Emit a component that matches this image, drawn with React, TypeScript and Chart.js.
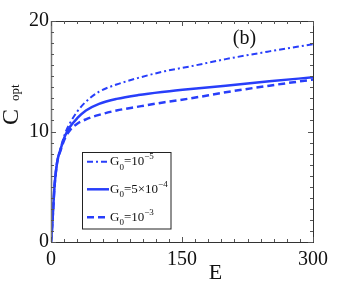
import React, { useEffect, useRef } from 'react';
import { Chart, registerables } from 'chart.js';

Chart.register(...registerables);

// ---- data ----
const energies = [0, 1, 2, 4, 7, 11, 16, 22, 30, 40, 55, 75, 100, 130, 160, 200, 250, 300];
const copt_G1e5 = [0, 1.0, 2.3, 5.0, 7.2, 8.5, 9.8, 10.8, 11.8, 12.7, 13.6, 14.25, 14.85, 15.45, 15.9, 16.55, 17.25, 17.9];
const copt_G5e4 = [0, 1.0, 2.3, 5.0, 7.2, 8.4, 9.6, 10.45, 11.2, 11.9, 12.5, 12.95, 13.3, 13.6, 13.85, 14.15, 14.55, 14.9];
const copt_G1e3 = [0, 1.0, 2.3, 5.0, 7.2, 8.3, 9.4, 10.15, 10.7, 11.1, 11.5, 11.9, 12.25, 12.65, 13.0, 13.55, 14.15, 14.7];
// legend label runs: [main, subscript, main, superscript]
const legendRuns = [
  ['G', '0', '=10', '\u22125'],
  ['G', '0', '=5\u00d710', '\u22124'],
  ['G', '0', '=10', '\u22123'],
];
const xMajor = [0, 150, 300];
const yMajor = [0, 10, 20];
const xTitle = 'E';
const yTitleMain = 'C';
const yTitleSub = 'opt';
const panelLabel = '(b)';

const BLUE = 'rgb(40,62,250)';
const SERIF = '"Liberation Serif", "DejaVu Serif", serif';

const overlayPlugin = {
  id: 'overlay',
  afterDatasetsDraw(chart: any) {
    const { ctx, chartArea: a, scales } = chart;
    const xs = scales.x, ys = scales.y;
    ctx.save();
    // frame
    ctx.strokeStyle = '#333';
    ctx.lineWidth = 1;
    ctx.setLineDash([]);
    ctx.strokeRect(Math.round(a.left) + 0.5, Math.round(a.top) + 0.5, Math.round(a.right - a.left), Math.round(a.bottom - a.top));
    ctx.strokeStyle = '#777';
    ctx.lineWidth = 1.5;
    ctx.beginPath();
    ctx.moveTo(a.left + 0.5, a.top);
    ctx.lineTo(a.left + 0.5, a.bottom);
    ctx.stroke();
    // inward ticks
    ctx.strokeStyle = '#555';
    ctx.lineWidth = 1;
    ctx.beginPath();
    xs.ticks.forEach((t: any) => {
      const px = Math.round(xs.getPixelForValue(t.value)) + 0.5;
      const len = xMajor.includes(Math.round(t.value)) ? 5 : 3;
      ctx.moveTo(px, a.bottom); ctx.lineTo(px, a.bottom - len);
      ctx.moveTo(px, a.top); ctx.lineTo(px, a.top + len);
    });
    ys.ticks.forEach((t: any) => {
      const py = Math.round(ys.getPixelForValue(t.value)) + 0.5;
      const len = yMajor.includes(Math.round(t.value)) ? 5 : 3;
      ctx.moveTo(a.left, py); ctx.lineTo(a.left + len, py);
      ctx.moveTo(a.right, py); ctx.lineTo(a.right - len, py);
    });
    ctx.stroke();

    // axis titles
    ctx.fillStyle = '#111';
    ctx.font = `22px ${SERIF}`;
    ctx.textAlign = 'center';
    ctx.textBaseline = 'alphabetic';
    ctx.fillText(xTitle, a.left + 164.5, a.bottom + 37);

    ctx.save();
    ctx.translate(18, a.top + 104);
    ctx.rotate(-Math.PI / 2);
    ctx.textAlign = 'left';
    ctx.font = `24px ${SERIF}`;
    ctx.fillText(yTitleMain, 0, 0);
    ctx.font = `13px ${SERIF}`;
    ctx.fillText(yTitleSub, 24, 1);
    ctx.restore();

    // panel label
    ctx.font = `20px ${SERIF}`;
    ctx.textAlign = 'center';
    ctx.fillText(panelLabel, a.left + 193.5, a.top + 23);

    // legend
    const bx = a.left + 31.5, by = a.top + 131.5, bw = 88.5, bh = 76.5;
    ctx.fillStyle = '#fff';
    ctx.fillRect(bx, by, bw, bh);
    ctx.strokeStyle = '#222';
    ctx.lineWidth = 1;
    ctx.strokeRect(bx, by, bw, bh);
    const rowY = [161.7, 189.3, 217.3].map((v) => v - 21 + a.top);
    chart.data.datasets.forEach((ds: any, i: number) => {
      const ly = rowY[i];
      ctx.strokeStyle = ds.borderColor;
      ctx.lineWidth = ds.borderWidth;
      ctx.setLineDash(ds.borderDash || []);
      ctx.beginPath();
      ctx.moveTo(a.left + 36, ly);
      ctx.lineTo(a.left + 58, ly);
      ctx.stroke();
      ctx.setLineDash([]);
      const runs = legendRuns[i];
      let x = a.left + 59;
      const base = ly + 3.5;
      ctx.fillStyle = '#111';
      ctx.textAlign = 'left';
      runs.forEach((r, k) => {
        const small = k % 2 === 1;
        ctx.font = small ? `9px ${SERIF}` : `13px ${SERIF}`;
        const yy = k === 1 ? base + 4.5 : k === 3 ? base - 6 : base;
        ctx.fillText(r, x, yy);
        x += ctx.measureText(r).width;
      });
    });
    ctx.restore();
  },
};

export default function App() {
  const ref = useRef<HTMLCanvasElement>(null);
  useEffect(() => {
    if (!ref.current) return;
    const mk = (ys: number[]) => energies.map((e, i) => ({ x: e, y: ys[i] }));
    const chart = new Chart(ref.current, {
      type: 'line',
      data: {
        datasets: [
          { label: 'G0=1e-5', data: mk(copt_G1e5), borderColor: BLUE, borderWidth: 2, borderDash: [6, 3, 2, 3], pointRadius: 0, cubicInterpolationMode: 'monotone', fill: false },
          { label: 'G0=5e-4', data: mk(copt_G5e4), borderColor: BLUE, borderWidth: 2.5, borderDash: [], pointRadius: 0, cubicInterpolationMode: 'monotone', fill: false },
          { label: 'G0=1e-3', data: mk(copt_G1e3), borderColor: BLUE, borderWidth: 2.5, borderDash: [7, 4], pointRadius: 0, cubicInterpolationMode: 'monotone', fill: false },
        ],
      },
      options: {
        animation: false,
        responsive: false,
        devicePixelRatio: 1,
        layout: { padding: { top: 21, right: 33, left: 0, bottom: 0 } },
        plugins: { legend: { display: false }, tooltip: { enabled: false } },
        scales: {
          x: {
            type: 'linear',
            min: 0,
            max: 300,
            grid: { display: false, drawTicks: false },
            border: { display: false },
            ticks: {
              stepSize: 15,
              autoSkip: false,
              maxRotation: 0,
              padding: 6,
              color: '#111',
              font: { family: SERIF, size: 20 },
              callback: (v: any) => (xMajor.includes(Number(v)) ? String(v) : ''),
            },
            afterFit: (s: any) => { s.height = 43; },
          },
          y: {
            type: 'linear',
            min: 0,
            max: 20,
            grid: { display: false, drawTicks: false },
            border: { display: false },
            ticks: {
              stepSize: 1,
              autoSkip: false,
              padding: 2,
              color: '#111',
              font: { family: SERIF, size: 20 },
              callback: (v: any) => (yMajor.includes(Number(v)) ? String(v) : ''),
            },
            afterFit: (s: any) => { s.width = 51; },
          },
        },
      },
      plugins: [overlayPlugin],
    } as any);
    return () => chart.destroy();
  }, []);
  return (
    <div style={{ position: 'absolute', left: 0, top: 0, width: 346, height: 285, background: '#fff' }}>
      <canvas ref={ref} width={346} height={285} style={{ width: 346, height: 285, display: 'block' }} />
    </div>
  );
}
